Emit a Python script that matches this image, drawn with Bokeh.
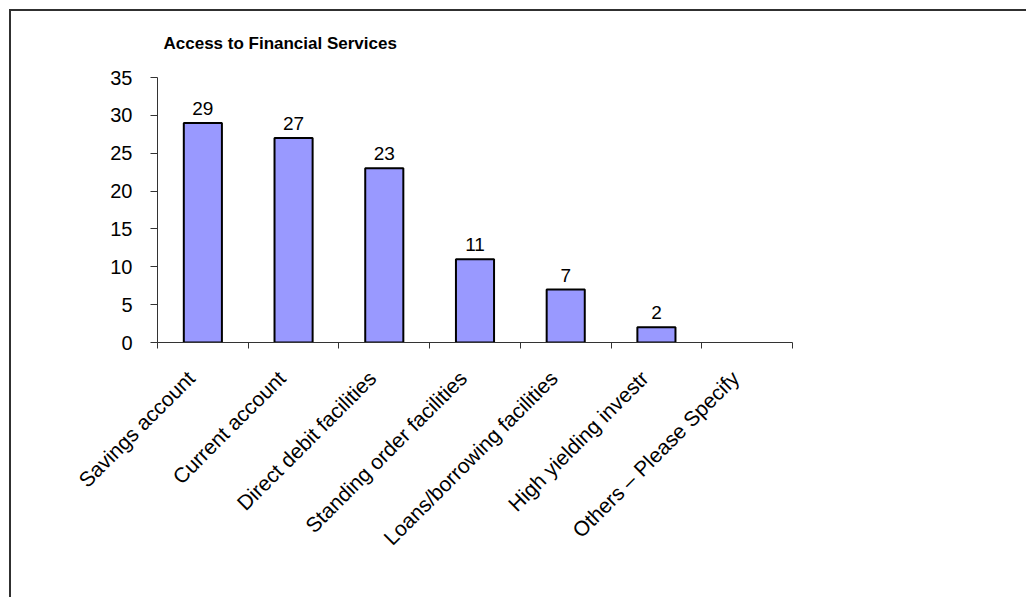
import numpy as np
from bokeh.plotting import figure
from bokeh.models import FixedTicker, Range1d, ColumnDataSource
from bokeh.embed import file_html
from bokeh.resources import INLINE
from bokeh.core.properties import value

categories = ["Savings account", "Current account", "Direct debit facilities",
              "Standing order facilities", "Loans/borrowing facilities",
              "High yielding investr", "Others \u2013 Please Specify"]
counts = [29, 27, 23, 11, 7, 2, np.nan]
y_ticks = [0, 5, 10, 15, 20, 25, 30, 35]
title_text = "Access to Financial Services"

FONT = "Liberation Sans"
n = len(categories)
xs = np.arange(n) + 0.5
LABEL_SHIFT = 0.13  # rotated labels sit slightly left of the category centre

p = figure(width=1017, height=588, output_backend="svg", toolbar_location=None,
           x_range=Range1d(0, n), y_range=Range1d(0, y_ticks[-1]),
           min_border_left=146, min_border_right=236, min_border_top=66,
           min_border_bottom=257, tools="")
p.margin = (9, 0, 0, 9)
p.styles = {"border-left": "2px solid #303030", "border-top": "2px solid #303030"}
p.outline_line_color = None
p.grid.visible = False
p.background_fill_color = "white"
p.border_fill_color = "white"

p.title.text = title_text
p.title.text_font = FONT
p.title.text_font_size = "17px"
p.title.text_font_style = "bold"
p.title.text_color = "black"
p.title.align = "left"
p.title.vertical_align = "top"
p.title.offset = 6
p.title.standoff = 45

src = ColumnDataSource(dict(x=xs, top=counts,
                            lab=[("" if np.isnan(c) else str(int(c))) for c in counts],
                            ly=[0 if np.isnan(c) else c for c in counts]))
p.vbar(x="x", top="top", bottom=0, width=0.42, source=src,
       fill_color="#9999FF", line_color="black", line_width=2)
p.text(x="x", y="ly", text="lab", source=src, text_align="center",
       text_baseline="bottom", y_offset=-8, text_font=value(FONT),
       text_font_size="19px", text_color="black")

# y axis
ya = p.yaxis[0]
ya.ticker = FixedTicker(ticks=y_ticks)
ya.major_tick_out = 7
ya.major_tick_in = 0
ya.minor_tick_line_color = None
ya.axis_line_color = "#333333"
ya.major_tick_line_color = "#333333"
ya.major_label_text_font = FONT
ya.major_label_text_font_size = "20px"
ya.major_label_text_color = "black"
ya.major_label_standoff = 18

# x axis
label_pos = [float(x - LABEL_SHIFT) for x in xs]
xa = p.xaxis[0]
xa.ticker = FixedTicker(ticks=label_pos, minor_ticks=list(range(n + 1)))
xa.major_label_overrides = {lp: c for lp, c in zip(label_pos, categories)}
xa.major_tick_line_color = None
xa.minor_tick_out = 6
xa.minor_tick_in = 0
xa.minor_tick_line_color = "#333333"
xa.axis_line_color = "#333333"
xa.major_label_orientation = np.pi / 4
xa.major_label_text_font = FONT
xa.major_label_text_font_size = "21px"
xa.major_label_text_color = "black"
xa.major_label_standoff = 26

open("out.html", "w").write(file_html(p, INLINE))
